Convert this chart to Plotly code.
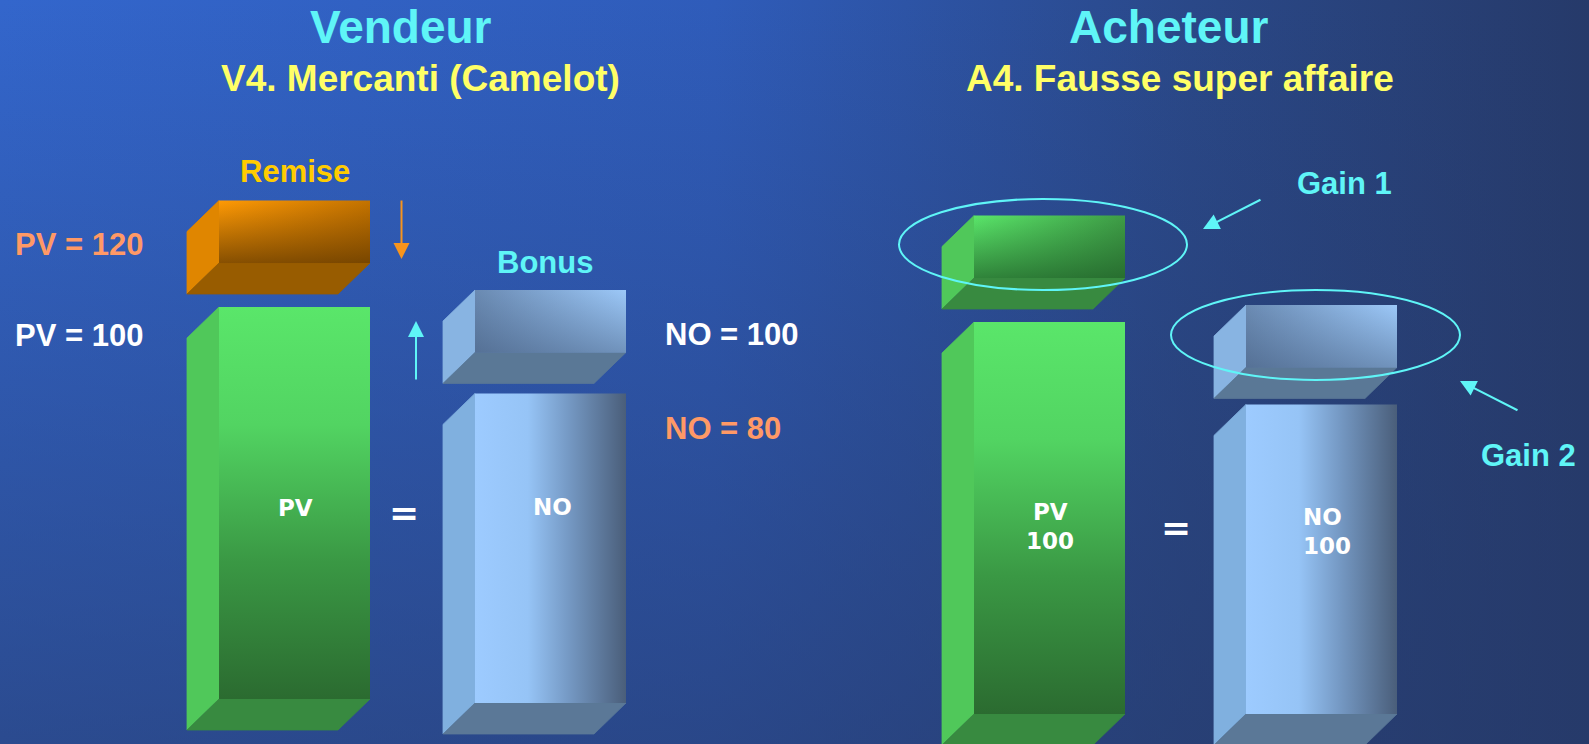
import plotly.graph_objects as go

W, H = 1589, 744

# Block sizes per stack, bottom block first, then the block stacked on top
stack_names = ["Vendeur PV", "Vendeur NO", "Acheteur PV", "Acheteur NO"]
base_values = [100, 80, 100, 80]
top_values = [20, 20, 20, 20]
top_names = ["Remise", "Bonus", "Gain 1", "Gain 2"]

# Drawing scale for the pseudo-3D blocks (pixels)
K = 4.12          # pixels per unit of value
INSET = 20        # bevel taken off each front face
DX, DY = 32, 31   # depth offset of the extruded faces
FRONT_W = 151

# Layout of each stack: left edge of front face, baseline, gap above the base block
stack_x = [219, 475, 974, 1246]
stack_base = [699, 703, 714, 714]
stack_gap = [13, 10, 13, 6]

CYAN = "#5ff5f7"
YELLOW = "#ffff66"
GOLD = "#ffcc00"
SALMON = "#ff9966"
WHITE = "#ffffff"

STYLES = {
    "green_main": dict(
        front=[("vertical", [[0, "#5ae66a"], [0.3, "#52d462"], [0.65, "#3a9844"], [1, "#2b6b30"]])],
        left="#50c85a", bottom="#388a40"),
    "green_top": dict(
        front=[("horizontal", [[0, "#5ae66a"], [1, "#3e9c46"]]),
               ("vertical", [[0, "rgba(30,90,38,0)"], [1, "rgba(30,90,38,0.7)"]])],
        left="#50c85a", bottom="#388a40"),
    "orange_top": dict(
        front=[("horizontal", [[0, "#ff9a05"], [1, "#c47300"]]),
               ("vertical", [[0, "rgba(95,55,0,0)"], [1, "rgba(95,55,0,0.75)"]])],
        left="#e08600", bottom="#985c00"),
    "blue_main": dict(
        front=[("horizontal", [[0, "#9dcbff"], [0.35, "#96c4f6"], [0.62, "#7599c4"], [1, "#4a5e7a"]])],
        left="#80b0df", bottom="#5b7897"),
    "blue_top": dict(
        front=[("horizontal", [[0, "#6a8ab2"], [1, "#9cc8f8"]]),
               ("vertical", [[0, "rgba(60,82,115,0)"], [1, "rgba(60,82,115,0.45)"]])],
        left="#88b4e2", bottom="#5a7896"),
}
stack_styles = [("green_main", "orange_top"), ("blue_main", "blue_top"),
                ("green_main", "green_top"), ("blue_main", "blue_top")]

fig = go.Figure()


def poly(xs, ys, color=None, grad=None, line=0):
    kw = dict(x=list(xs) + [xs[0]], y=list(ys) + [ys[0]], mode="lines", fill="toself",
              hoverinfo="skip", showlegend=False)
    if grad is not None:
        kw["fillgradient"] = grad
        kw["line"] = dict(width=0, color="rgba(0,0,0,0)")
    else:
        kw["fillcolor"] = color
        kw["line"] = dict(width=line, color=color)
    fig.add_trace(go.Scatter(**kw))


# Background: horizontal blue-to-navy sweep, darkened towards the bottom
bg_x = [0, W, W, 0]
bg_y = [0, 0, H, H]
poly(bg_x, bg_y, grad=dict(type="horizontal", start=0, stop=W,
                           colorscale=[[0, "#3366cc"], [0.45, "#2f5cba"],
                                       [0.75, "#2a4888"], [1, "#263a6a"]]))
poly(bg_x, bg_y, grad=dict(type="vertical", start=0, stop=H,
                           colorscale=[[0, "rgba(38,58,106,0)"], [1, "rgba(38,58,106,0.62)"]]))


def block(x0, ytop, ybot, style):
    x1 = x0 + FRONT_W
    st = STYLES[style]
    # side face
    poly([x0, x0 - DX, x0 - DX, x0], [ytop, ytop + DY, ybot + DY, ybot], color=st["left"], line=0.8)
    # bottom face
    poly([x0, x1, x1 - DX, x0 - DX], [ybot, ybot, ybot + DY, ybot + DY], color=st["bottom"], line=0.8)
    # front face, possibly with a second shading layer
    for kind, cs in st["front"]:
        if kind == "horizontal":
            g = dict(type="horizontal", start=x0, stop=x1, colorscale=cs)
        else:
            g = dict(type="vertical", start=ytop, stop=ybot, colorscale=cs)
        poly([x0, x1, x1, x0], [ytop, ytop, ybot, ybot], grad=g)


for i in range(len(stack_names)):
    x0 = stack_x[i]
    ybot = stack_base[i]
    for v, sty in zip([base_values[i], top_values[i]], stack_styles[i]):
        h = v * K - INSET
        ytop = ybot - h
        block(x0, ytop, ybot, sty)
        ybot = ytop - stack_gap[i] - DY

ann = []


def text(x, y, s, size, color, family="Liberation Sans, Arial, sans-serif", xanchor="center"):
    ann.append(dict(x=x, y=y, xref="x", yref="y", text=s, showarrow=False,
                    xanchor=xanchor, yanchor="middle",
                    font=dict(family=family, size=size, color=color, weight="bold")))


VERD = "DejaVu Sans, Verdana, sans-serif"

# Headings
text(401, 27, "Vendeur", 46, CYAN)
text(1168, 27, "Acheteur", 46, CYAN)
text(420, 78, "V4. Mercanti (Camelot)", 37, YELLOW)
text(1180, 78, "A4. Fausse super affaire", 37, YELLOW)

# Seller side labels
text(295, 171, "Remise", 31, GOLD)
text(13, 244, "PV = 120", 31, SALMON, xanchor="left")
text(13, 335, "PV = 100", 31, WHITE, xanchor="left")
text(545, 262, "Bonus", 31, CYAN)
text(663, 334, "NO = 100", 31, WHITE, xanchor="left")
text(663, 428, "NO = 80", 31, SALMON, xanchor="left")
text(295, 508, "PV", 23, WHITE, family=VERD)
text(552, 507, "NO", 23, WHITE, family=VERD)
text(404, 512, "=", 36, WHITE, family=VERD)

# Buyer side labels
text(1344, 183, "Gain 1", 31, CYAN)
text(1528, 455, "Gain 2", 31, CYAN)
text(1050, 512, "PV", 23, WHITE, family=VERD)
text(1050, 541, "100", 23, WHITE, family=VERD)
text(1301, 517, "NO", 23, WHITE, family=VERD, xanchor="left")
text(1301, 546, "100", 23, WHITE, family=VERD, xanchor="left")
text(1176, 527, "=", 36, WHITE, family=VERD)


def arrow(x_tail, y_tail, x_head, y_head, color):
    ann.append(dict(x=x_head, y=y_head, ax=x_tail, ay=y_tail, xref="x", yref="y",
                    axref="x", ayref="y", text="", showarrow=True, arrowhead=2,
                    arrowsize=1.6, arrowwidth=2, arrowcolor=color, standoff=0))


arrow(401.5, 199, 401.5, 259, "#f7941d")
arrow(416, 381, 416, 321, CYAN)
arrow(1262, 199, 1203, 229, CYAN)
arrow(1519, 411, 1460, 381, CYAN)

shapes = [
    dict(type="circle", xref="x", yref="y", x0=899, x1=1187, y0=199, y1=290,
         line=dict(color=CYAN, width=2)),
    dict(type="circle", xref="x", yref="y", x0=1171, x1=1460, y0=290, y1=380,
         line=dict(color=CYAN, width=2)),
]

fig.update_layout(
    width=W, height=H, autosize=False,
    margin=dict(l=0, r=0, t=0, b=0),
    paper_bgcolor="#2a4a90", plot_bgcolor="#2a4a90",
    xaxis=dict(range=[0, W], visible=False, fixedrange=True),
    yaxis=dict(range=[H, 0], visible=False, fixedrange=True),
    annotations=ann, shapes=shapes, showlegend=False,
)

fig.write_html("out.html", config={"displayModeBar": False})
